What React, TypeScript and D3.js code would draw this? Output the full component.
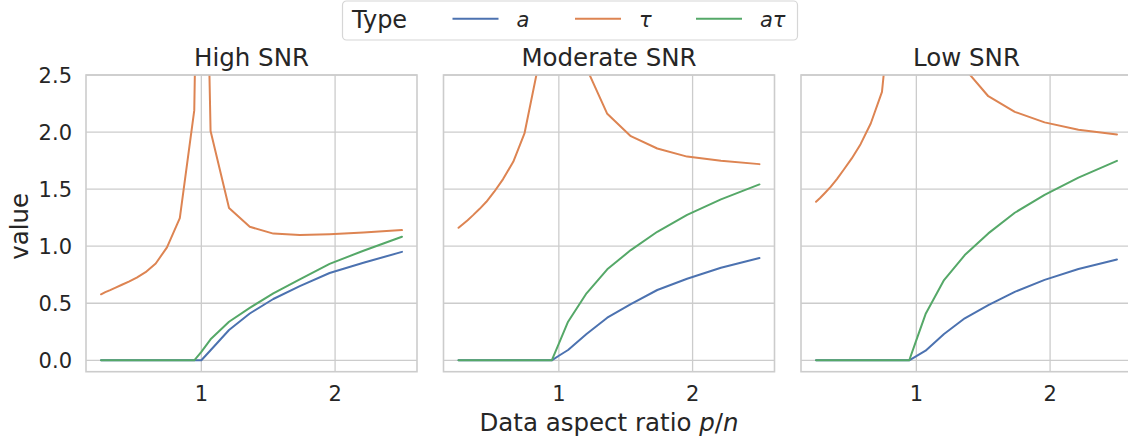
import React, { useEffect, useRef } from 'react';
import * as d3 from 'd3';

// p/n grid shared by all panels
const pRatio = [0.25, 0.282, 0.318, 0.359, 0.406, 0.458, 0.517, 0.583, 0.659, 0.743, 0.839, 0.947, 1.0, 1.069, 1.207, 1.362, 1.538, 1.736, 1.959, 2.212, 2.5];

const highA = [0, 0, 0, 0, 0, 0, 0, 0, 0, 0, 0, 0, 0, 0.088, 0.265, 0.41, 0.537, 0.65, 0.765, 0.855, 0.95];
const highTau = [0.578, 0.597, 0.615, 0.637, 0.662, 0.69, 0.725, 0.772, 0.848, 0.99, 1.245, 2.19, 6.0, 2.01, 1.335, 1.17, 1.11, 1.097, 1.105, 1.12, 1.141];
const highATau = [0, 0, 0, 0, 0, 0, 0, 0, 0, 0, 0, 0, 0.073, 0.184, 0.338, 0.46, 0.586, 0.709, 0.845, 0.96, 1.083];

const modA = [0, 0, 0, 0, 0, 0, 0, 0, 0, 0, 0, 0, 0.04, 0.09, 0.23, 0.373, 0.493, 0.616, 0.715, 0.811, 0.896];
const modTau = [1.161, 1.193, 1.228, 1.272, 1.325, 1.389, 1.477, 1.588, 1.739, 1.988, 2.54, 3.5, 6.0, 3.5, 2.56, 2.16, 1.964, 1.856, 1.785, 1.748, 1.719];
const modATau = [0, 0, 0, 0, 0, 0, 0, 0, 0, 0, 0, 0, 0.146, 0.338, 0.587, 0.797, 0.966, 1.126, 1.275, 1.41, 1.541];

const lowA = [0, 0, 0, 0, 0, 0, 0, 0, 0, 0, 0, 0, 0.037, 0.084, 0.23, 0.368, 0.484, 0.6, 0.705, 0.8, 0.884];
const lowTau = [1.389, 1.424, 1.468, 1.52, 1.588, 1.672, 1.769, 1.894, 2.075, 2.352, 3.48, 5.0, 7.0, 5.0, 3.2, 2.555, 2.314, 2.177, 2.085, 2.02, 1.979];
const lowATau = [0, 0, 0, 0, 0, 0, 0, 0, 0, 0, 0, 0, 0.177, 0.405, 0.703, 0.922, 1.112, 1.293, 1.45, 1.6, 1.748];

const panelTitles = ['High SNR', 'Moderate SNR', 'Low SNR'];
const typeLabels = ['a', 'τ', 'aτ'];
const typeColors = ['#4c72b0', '#dd8452', '#55a868'];
const yTicks = [0, 0.5, 1, 1.5, 2, 2.5];
const xTicks = [1, 2];

const panels = [
  [highA, highTau, highATau],
  [modA, modTau, modATau],
  [lowA, lowTau, lowATau],
];

const App: React.FC = () => {
  const svgRef = useRef<SVGSVGElement>(null);
  const width = 1128;
  const height = 440;

  useEffect(() => {
    document.body.style.margin = '0';
    if (!svgRef.current) return;
    const svg = d3.select(svgRef.current);
    svg.selectAll('*').remove();

    const font = '"DejaVu Sans", sans-serif';
    const textColor = '#262626';
    const gridColor = '#cccccc';

    const panelLeft = [86, 443.5, 801];
    const panelW = 331;
    const top = 75;
    const bottom = 371.7;

    const yScale = d3.scaleLinear().domain([-0.1, 2.5]).range([bottom, top]);

    panels.forEach((series, pi) => {
      const x0 = panelLeft[pi];
      const xScale = d3.scaleLinear().domain([0.1375, 2.6125]).range([x0, x0 + panelW]);
      const g = svg.append('g');

      g.append('rect')
        .attr('x', x0).attr('y', top)
        .attr('width', panelW).attr('height', bottom - top)
        .attr('fill', 'white');

      // grid
      g.selectAll('.hgrid')
        .data(yTicks)
        .enter()
        .append('line')
        .attr('x1', x0).attr('x2', x0 + panelW)
        .attr('y1', d => yScale(d)).attr('y2', d => yScale(d))
        .attr('stroke', gridColor).attr('stroke-width', 1.3);
      g.selectAll('.vgrid')
        .data(xTicks)
        .enter()
        .append('line')
        .attr('x1', d => xScale(d)).attr('x2', d => xScale(d))
        .attr('y1', top).attr('y2', bottom)
        .attr('stroke', gridColor).attr('stroke-width', 1.3);

      const clipId = `clip-${pi}`;
      svg.append('clipPath').attr('id', clipId)
        .append('rect')
        .attr('x', x0).attr('y', top)
        .attr('width', panelW).attr('height', bottom - top);

      const line = d3.line<number>()
        .x((_, i) => xScale(pRatio[i]))
        .y(d => yScale(d));

      series.forEach((vals, si) => {
        g.append('path')
          .datum(vals)
          .attr('clip-path', `url(#${clipId})`)
          .attr('d', line)
          .attr('fill', 'none')
          .attr('stroke', typeColors[si])
          .attr('stroke-width', 2)
          .attr('stroke-linejoin', 'round')
          .attr('stroke-linecap', 'round');
      });

      // frame
      g.append('rect')
        .attr('x', x0).attr('y', top)
        .attr('width', panelW).attr('height', bottom - top)
        .attr('fill', 'none')
        .attr('stroke', gridColor).attr('stroke-width', 1.6);

      g.selectAll('.xt')
        .data(xTicks)
        .enter()
        .append('text')
        .attr('x', d => xScale(d))
        .attr('y', 401)
        .attr('text-anchor', 'middle')
        .attr('font-family', font)
        .attr('font-size', 21)
        .attr('fill', textColor)
        .text(d => d3.format('d')(d));

      g.append('text')
        .attr('x', x0 + panelW / 2)
        .attr('y', 66)
        .attr('text-anchor', 'middle')
        .attr('font-family', font)
        .attr('font-size', 24.5)
        .attr('fill', textColor)
        .text(panelTitles[pi]);

      if (pi === 0) {
        g.selectAll('.yt')
          .data(yTicks)
          .enter()
          .append('text')
          .attr('x', 72)
          .attr('y', d => yScale(d))
          .attr('dy', '0.36em')
          .attr('text-anchor', 'end')
          .attr('font-family', font)
          .attr('font-size', 21)
          .attr('fill', textColor)
          .text(d => d3.format('.1f')(d));
      }
    });

    // y label
    svg.append('text')
      .attr('transform', `translate(28,${(top + bottom) / 2 + 3}) rotate(-90)`)
      .attr('text-anchor', 'middle')
      .attr('font-family', font)
      .attr('font-size', 24.5)
      .attr('fill', textColor)
      .text('value');

    // x label
    const xl = svg.append('text')
      .attr('x', 609)
      .attr('y', 431)
      .attr('text-anchor', 'middle')
      .attr('font-family', font)
      .attr('font-size', 24.5)
      .attr('fill', textColor);
    xl.append('tspan').text('Data aspect ratio ');
    xl.append('tspan').attr('font-style', 'italic').text('p');
    xl.append('tspan').text('/');
    xl.append('tspan').attr('font-style', 'italic').text('n');

    // legend
    const lg = svg.append('g');
    lg.append('rect')
      .attr('x', 342.5).attr('y', 1)
      .attr('width', 455).attr('height', 39)
      .attr('rx', 4)
      .attr('fill', 'white')
      .attr('stroke', '#d6d6d6')
      .attr('stroke-width', 1.2);
    lg.append('text')
      .attr('x', 352).attr('y', 27.5)
      .attr('font-family', font)
      .attr('font-size', 24)
      .attr('fill', textColor)
      .text('Type');
    const itemX = [452.5, 575, 696];
    typeLabels.forEach((lab, i) => {
      lg.append('line')
        .attr('x1', itemX[i]).attr('x2', itemX[i] + 46)
        .attr('y1', 18.7).attr('y2', 18.7)
        .attr('stroke', typeColors[i])
        .attr('stroke-width', 2);
      lg.append('text')
        .attr('x', itemX[i] + 64)
        .attr('y', 27)
        .attr('font-family', font)
        .attr('font-style', 'italic')
        .attr('font-size', 21)
        .attr('fill', textColor)
        .text(lab);
    });
  }, []);

  return <svg ref={svgRef} width={width} height={height} style={{ display: 'block' }} />;
};

export default App;
